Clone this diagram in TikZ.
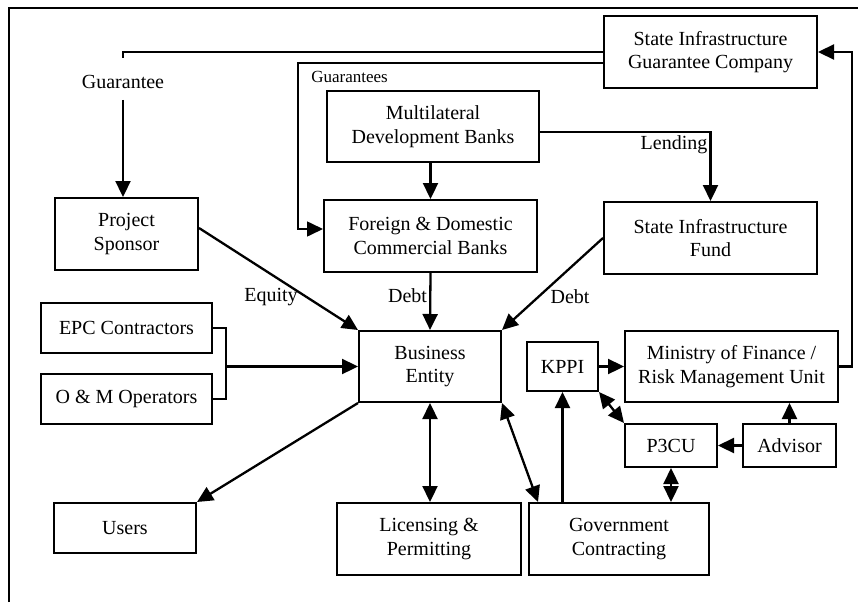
\documentclass[tikz,border=0pt]{standalone}
\usepackage{fontspec}
\setmainfont{Liberation Serif}
\usetikzlibrary{arrows.meta}
\begin{document}
\begin{tikzpicture}[x=1pt,y=-1pt,
  box/.style={draw, line width=2pt, align=center, inner sep=0pt,
    font=\fontsize{20}{23.5}\selectfont},
  lbl/.style={inner sep=0pt, font=\fontsize{20}{23.5}\selectfont},
  smalllbl/.style={inner sep=0pt, font=\fontsize{17}{20}\selectfont},
  tip/.style={-{Triangle[length=16pt,width=15pt]}},
  arr/.style={line width=2.3pt, -{Triangle[length=16pt,width=15pt]}},
  darr/.style={line width=2.3pt, {Triangle[length=16pt,width=15pt]}-{Triangle[length=16pt,width=15pt]}},
  thinline/.style={line width=1.6pt}
]
\useasboundingbox (0,0) rectangle (858,602);
% frame
\coordinate (fbl) at (9,602);
\coordinate (ftl) at (9,8);
\coordinate (ftr) at (858,8);
\draw[line width=1.8pt] (fbl) -- (ftl) -- (ftr);

% nodes
\node[box, minimum width=213pt, minimum height=72pt] (sigc) at (710.5,52) {State Infrastructure\\Guarantee Company};
\node[box, minimum width=212pt, minimum height=71pt] (mdb) at (433,126.5) {Multilateral\\Development Banks};
\node[box, minimum width=213pt, minimum height=72pt] (fcb) at (430.5,236) {Foreign \& Domestic\\Commercial Banks};
\node[box, minimum width=213pt, minimum height=72pt] (sif) at (710.5,238) {State Infrastructure\\Fund};
\node[box, minimum width=143pt, minimum height=72pt] (ps) at (126.5,234) {Project\\Sponsor};
\node[box, minimum width=171pt, minimum height=50pt] (epc) at (126.5,328) {EPC Contractors};
\node[box, minimum width=171pt, minimum height=50pt] (om) at (126.5,399) {O \& M Operators};
\node[box, minimum width=142pt, minimum height=71pt] (be) at (430,366.5) {Business\\Entity};
\node[box, minimum width=71pt, minimum height=49pt] (kppi) at (562.5,366.5) {KPPI};
\node[box, minimum width=213pt, minimum height=71pt] (mof) at (731.5,366.5) {Ministry of Finance /\\Risk Management Unit};
\node[box, minimum width=92pt, minimum height=43pt] (p3cu) at (671,445.5) {P3CU};
\node[box, minimum width=93pt, minimum height=43pt] (adv) at (789.5,445.5) {Advisor};
\node[box, minimum width=142pt, minimum height=50pt] (users) at (125,528) {Users};
\node[box, minimum width=184pt, minimum height=72pt] (lic) at (429,539) {Licensing \&\\Permitting};
\node[box, minimum width=180pt, minimum height=72pt] (gov) at (619,539) {Government\\Contracting};

% labels
\node[lbl] (gl) at (123,82) {Guarantee};
\node[smalllbl] (gsl) at (349.5,77) {Guarantees};
\node[lbl] (lendl) at (674,145) {Lending};
\node[lbl] (debt1) at (407.5,296) {Debt};
\node[lbl] (debt2) at (570,297) {Debt};
\node[lbl] (eql) at (271,297) {Equity};

% guarantee to sponsor
\coordinate (gtop) at (123,58);
\draw[thinline] (sigc.west) -| (gtop);
\draw[arr] ([yshift=-11pt]gl.south) -- (gl.south |- ps.north);

% guarantees to commercial banks
\coordinate (gc) at (298,63);
\draw[thinline, tip] ([yshift=-11pt]sigc.west) -- (gc) |- ([yshift=7pt]fcb.west);

% MDB to banks
\draw[arr] (fcb.north |- mdb.south) -- (fcb.north);
% lending
\draw[arr] ([yshift=-5.5pt]mdb.east) -| (sif.north);

% debt / equity flows
\draw[arr] (fcb.south) -- (be.north);
\draw[arr] (sif.west) -- (be.north east);
\draw[arr] ([yshift=6pt]ps.east) -- (be.north west);

% contractors bracket
\coordinate (bk) at (226,366.5);
\draw[thinline] (epc.east) -| (bk) |- (om.east);
\draw[arr] (bk) -- (be.west);

% business entity outputs
\draw[arr] (be.south west) -- (users.north east);
\draw[darr] (be.south) -- (be.south |- lic.north);
\draw[darr] (be.south east) -- ([xshift=10pt]gov.north west);

% government side
\draw[arr] (kppi.south |- gov.north) -- (kppi.south);
\draw[arr] (kppi.east) -- (kppi.east -| mof.west);
\draw[darr] (kppi.south east) -- (p3cu.north west);
\draw[arr] (adv.west) -- (adv.west -| p3cu.east);
\draw[arr] (adv.north) -- (adv.north |- mof.south);
\draw[darr] (p3cu.south) -- (p3cu.south |- gov.north);

% MoF back to guarantee company
\coordinate (rc) at (852,0);
\draw[arr] (mof.east) -- (mof.east -| rc) |- (sigc.east);
\end{tikzpicture}
\end{document}
